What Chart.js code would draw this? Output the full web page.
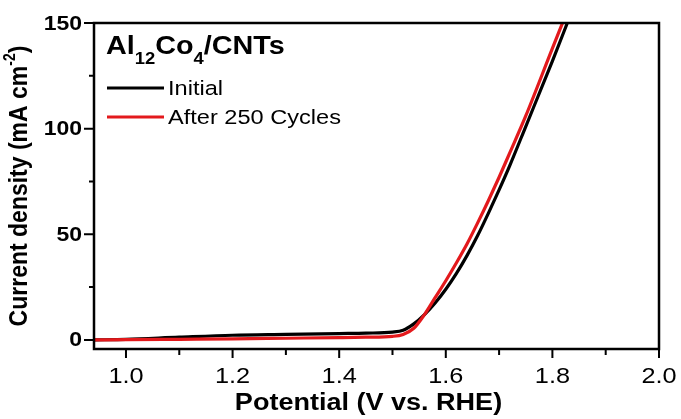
<!DOCTYPE html>
<html>
<head>
<meta charset="utf-8">
<script src="https://cdn.jsdelivr.net/npm/chart.js@4.4.1/dist/chart.umd.min.js"></script>
<style>
    html, body { margin: 0; padding: 0; background: #fff; }
    #wrap { width: 681px; height: 419px; }
</style>
</head>
<body>
<div id="wrap"><canvas id="lsv-chart" width="681" height="419"></canvas></div>
<script>
// Courbes de polarisation (LSV) - Al12Co4/CNTs
const potentialInitial = [0.94, 1.0, 1.1, 1.2, 1.3, 1.4, 1.45, 1.5, 1.52, 1.54, 1.56, 1.58, 1.6, 1.62, 1.64, 1.66, 1.68, 1.70, 1.72, 1.75, 1.80, 1.828];
const currentInitial   = [0, 0.3, 1.3, 2.2, 2.6, 3.0, 3.2, 3.7, 4.6, 7.6, 12, 17.5, 24, 31.5, 40, 49.5, 60, 71, 82.5, 101, 132, 150];

const potentialCycled = [0.94, 1.0, 1.1, 1.2, 1.3, 1.4, 1.45, 1.5, 1.52, 1.54, 1.56, 1.58, 1.6, 1.62, 1.64, 1.66, 1.68, 1.70, 1.72, 1.75, 1.80, 1.819];
const currentCycled   = [0, 0.1, 0.3, 0.5, 0.8, 1.1, 1.3, 1.7, 2.6, 5.5, 12, 20, 28, 36.5, 45.5, 55.5, 66, 77, 88.5, 106, 138, 150];

const seriesLabels = ['Initial', 'After 250 Cycles'];
const seriesColors = ['#000000', '#e3191c'];

const xMajorTicks = [1.0, 1.2, 1.4, 1.6, 1.8, 2.0];
const xMinorTicks = [1.1, 1.3, 1.5, 1.7, 1.9];
const yMajorTicks = [0, 50, 100, 150];
const yMinorTicks = [25, 75, 125];

const FONT = 'Arial, "Liberation Sans", sans-serif';
const STRETCH = 1.15;

/**
 * Écrit un texte légèrement élargi horizontalement
 */
function drawText(ctx, text, x, y, font, align = 'left', baseline = 'alphabetic') {
    ctx.save();
    ctx.translate(x, y);
    ctx.scale(STRETCH, 1);
    ctx.font = font;
    ctx.textAlign = align;
    ctx.textBaseline = baseline;
    ctx.fillStyle = '#000';
    ctx.fillText(text, 0, 0);
    const w = ctx.measureText(text).width * STRETCH;
    ctx.restore();
    return w;
}

function toPoints(xs, ys) {
    return xs.map((x, i) => ({ x: x, y: ys[i] }));
}

// Cadre, graduations, titres d'axes et légende
const frameAndLabels = {
    id: 'frameAndLabels',
    afterDatasetsDraw(chart) {
        const ctx = chart.ctx;
        const { left, right, top, bottom } = chart.chartArea;
        const xs = chart.scales.x;
        const ys = chart.scales.y;

        ctx.save();
        ctx.strokeStyle = '#000';
        ctx.lineWidth = 2.5;
        ctx.strokeRect(left, top, right - left, bottom - top);

        ctx.lineWidth = 2;
        ctx.beginPath();
        yMajorTicks.forEach(v => {
            const py = ys.getPixelForValue(v);
            ctx.moveTo(left - 10, py);
            ctx.lineTo(left, py);
        });
        yMinorTicks.forEach(v => {
            const py = ys.getPixelForValue(v);
            ctx.moveTo(left - 5, py);
            ctx.lineTo(left, py);
        });
        xMajorTicks.forEach(v => {
            const px = xs.getPixelForValue(v);
            ctx.moveTo(px, bottom);
            ctx.lineTo(px, bottom + 9);
        });
        xMinorTicks.forEach(v => {
            const px = xs.getPixelForValue(v);
            ctx.moveTo(px, bottom);
            ctx.lineTo(px, bottom + 6);
        });
        ctx.stroke();
        ctx.restore();

        // Valeurs des graduations
        yMajorTicks.forEach(v => {
            drawText(ctx, String(v), left - 12, ys.getPixelForValue(v) + 1, 'bold 20px ' + FONT, 'right', 'middle');
        });
        xMajorTicks.forEach(v => {
            drawText(ctx, v.toFixed(1), xs.getPixelForValue(v), 377, '22px ' + FONT, 'center', 'middle');
        });

        // Titre de l'axe X
        drawText(ctx, 'Potential (V vs. RHE)', (left + right) / 2 - 8, 404, 'bold 23.5px ' + FONT, 'center', 'middle');

        // Titre de l'axe Y (avec exposant)
        ctx.save();
        ctx.translate(20, (top + bottom) / 2);
        ctx.rotate(-Math.PI / 2);
        ctx.scale(1, STRETCH);
        ctx.fillStyle = '#000';
        ctx.textBaseline = 'middle';
        const main = 'Current density (mA cm';
        ctx.font = 'bold 23px ' + FONT;
        const wMain = ctx.measureText(main).width;
        ctx.font = 'bold 14px ' + FONT;
        const wSup = ctx.measureText('-2').width;
        ctx.font = 'bold 23px ' + FONT;
        const wEnd = ctx.measureText(')').width;
        let cx = -(wMain + wSup + wEnd) / 2;
        ctx.textAlign = 'left';
        ctx.fillText(main, cx, 0);
        cx += wMain;
        ctx.font = 'bold 14px ' + FONT;
        ctx.fillText('-2', cx, -8);
        cx += wSup;
        ctx.font = 'bold 23px ' + FONT;
        ctx.fillText(')', cx, 0);
        ctx.restore();

        // Nom de l'échantillon
        const big = 'bold 25px ' + FONT;
        const sub = 'bold 16px ' + FONT;
        let tx = 106;
        tx += drawText(ctx, 'Al', tx, 54, big);
        tx += drawText(ctx, '12', tx, 64, sub);
        tx += drawText(ctx, 'Co', tx, 54, big);
        tx += drawText(ctx, '4', tx, 64, sub);
        drawText(ctx, '/CNTs', tx, 54, big);

        // Légende
        const legendY = [88, 117];
        ctx.save();
        ctx.lineWidth = 3;
        seriesLabels.forEach((label, i) => {
            ctx.strokeStyle = seriesColors[i];
            ctx.beginPath();
            ctx.moveTo(107, legendY[i]);
            ctx.lineTo(164, legendY[i]);
            ctx.stroke();
            drawText(ctx, label, 168, legendY[i] + 1, '20.5px ' + FONT, 'left', 'middle');
        });
        ctx.restore();
    }
};

new Chart(document.getElementById('lsv-chart'), {
    type: 'line',
    data: {
        datasets: [{
            label: seriesLabels[0],
            data: toPoints(potentialInitial, currentInitial),
            borderColor: seriesColors[0],
            borderWidth: 3.2,
            pointRadius: 0,
            fill: false,
            cubicInterpolationMode: 'monotone',
            order: 1
        }, {
            label: seriesLabels[1],
            data: toPoints(potentialCycled, currentCycled),
            borderColor: seriesColors[1],
            borderWidth: 3.2,
            pointRadius: 0,
            fill: false,
            cubicInterpolationMode: 'monotone',
            order: 0
        }]
    },
    options: {
        responsive: false,
        animation: false,
        layout: {
            padding: { top: 23, right: 22, left: 0, bottom: 0 }
        },
        plugins: {
            legend: { display: false },
            tooltip: { enabled: false }
        },
        scales: {
            x: {
                type: 'linear',
                min: 0.94,
                max: 2.0,
                grid: { display: false },
                border: { display: false },
                ticks: { display: false },
                afterFit: scale => { scale.height = 70; }
            },
            y: {
                type: 'linear',
                min: -4.3,
                max: 150,
                grid: { display: false },
                border: { display: false },
                ticks: { display: false },
                afterFit: scale => { scale.width = 94; }
            }
        }
    },
    plugins: [frameAndLabels]
});
</script>
</body>
</html>
